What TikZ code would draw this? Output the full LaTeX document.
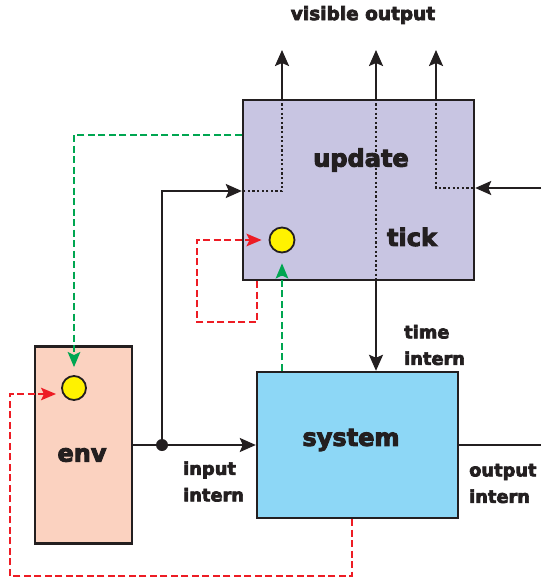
\documentclass[tikz,border=0pt]{standalone}
\usepackage{fontspec}
\setmainfont{DejaVu Sans}[BoldFeatures={FakeBold=4}]
\usetikzlibrary{arrows.meta}

\begin{document}
\begin{tikzpicture}[x=1pt,y=-1pt,line join=miter,
		box/.style={draw=ink,line width=2.4pt,inner sep=0pt},
		ball/.style={circle,draw=ink,line width=1.8pt,fill=sun,minimum size=25pt,inner sep=0pt},
		big/.style={inner sep=0pt,text=ink,font=\bfseries\fontsize{24}{28}\selectfont},
		small/.style={inner sep=0pt,text=ink,anchor=west,align=left,font=\bfseries\fontsize{17.8}{26.5}\selectfont},
		wire/.style={draw=ink,line width=2.3pt,-{Stealth[length=16pt,width=14pt,inset=3pt]}},
		thread/.style={draw=ink,line width=2.2pt,dash pattern=on 2.2pt off 2.4pt},
		rdash/.style={draw=rline,line width=2pt,dash pattern=on 7pt off 3.5pt,-{Stealth[length=15pt,width=12.5pt,inset=3pt]}},
		gdash/.style={draw=gline,line width=2pt,dash pattern=on 7pt off 3.5pt,-{Stealth[length=15pt,width=12.5pt,inset=3pt]}}]
	\definecolor{ink}{HTML}{231F20}
	\definecolor{lav}{HTML}{C8C5E2}
	\definecolor{sky}{HTML}{8DD7F6}
	\definecolor{peach}{HTML}{FBD2C0}
	\definecolor{sun}{HTML}{FFF200}
	\definecolor{rline}{HTML}{ED1C24}
	\definecolor{gline}{HTML}{00A651}
	\useasboundingbox (0,0) rectangle (541,580);
	
	% blocks
	\node[box,fill=lav,minimum width=231pt,minimum height=180pt] (update) at (358.5,190) {};
	\node[box,fill=sky,minimum width=201pt,minimum height=146pt] (system) at (357.5,445) {};
	\node[box,fill=peach,minimum width=97pt,minimum height=197pt] (env) at (83.5,445) {};
	\node[ball] (updball) at (282,240) {};
	\node[ball,minimum size=24pt] (envball) at (74,388) {};
	\node[circle,fill=ink,minimum size=12pt,inner sep=0pt] (fork) at (162,445) {};
	
	\node[big] (updlbl) at (361,160) {update};
	\node[big] (ticklbl) at (412,237) {tick};
	\node[big] (syslbl) at (351,440) {system};
	\node[big] (envlbl) at (82,455) {env};
	\node[inner sep=0pt,text=ink,font=\bfseries\fontsize{18.5}{22}\selectfont] (vislbl) at (363,15) {visible output};
	\node[small] (timelbl) at (404,345) {time\\intern};
	\node[small] (inlbl) at (183,481.5) {input\\intern};
	\node[small] (outlbl) at (469,483.5) {output\\intern};
	
	\path
	(update.west) ++(0,1) coordinate (uin)
	(update.east) ++(0,-2) coordinate (uex)
	(541,188) coordinate (rin)
	(541,445) coordinate (rout)
	(56,394) coordinate (envin);
	
	% visible output
	\foreach \n/\xx in {a/282,b/376,c/436}{
		\coordinate (top\n) at (\xx,50);
		\draw[wire] (top\n |- update.north) -- (top\n);
	}
	\draw[thread] (topa |- update.north) |- (uin);
	\draw[thread] (topc |- update.north) |- (uex);
	\draw[thread] (topb |- update.north) -- (topb |- update.south);
	\draw[wire] (topb |- update.south) -- (topb |- system.north);
	
	% inputs and outputs
	\draw[wire,-] (env.east |- fork) -- (fork);
	\draw[wire] (fork) -- (system.west |- fork);
	\draw[wire] (fork) |- (uin);
	\draw[wire] (rin) -- (uex);
	\draw[wire,-] (system.east) -- (rout);
	
	% state loops
	\draw[gdash,shorten >=8pt] (update.west |- 0,135) -| (envball.north);
	\draw[gdash,shorten >=10pt] (system.north -| updball) -- (updball.south);
	\draw[rdash,shorten >=7pt] (update.south -| 257,0) |- (197,322) |- (updball.west);
	\draw[rdash] (system.south -| 352,0) |- (10,576) |- (envin);
\end{tikzpicture}
\end{document}
